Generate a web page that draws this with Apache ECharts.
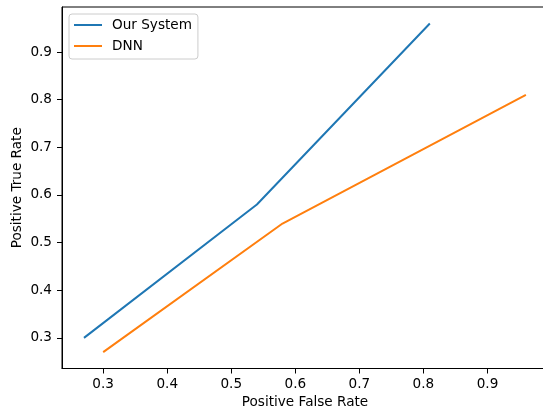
<!DOCTYPE html>
<html>
<head>
<meta charset="utf-8">
<script src="https://cdn.jsdelivr.net/npm/echarts@6/dist/echarts.min.js"></script>
<style>
  html, body { margin: 0; padding: 0; background: #fff; }
  #chart { width: 543px; height: 414px; }
</style>
</head>
<body>
<div id="chart"></div>
<script>
// values
const seriesNames = ['Our System', 'DNN'];
const ourSystemX = [0.27, 0.54, 0.81];
const ourSystemY = [0.30, 0.58, 0.96];
const dnnX = [0.30, 0.58, 0.96];
const dnnY = [0.27, 0.54, 0.81];
const xTicks = [0.3, 0.4, 0.5, 0.6, 0.7, 0.8, 0.9];
const yTicks = [0.3, 0.4, 0.5, 0.6, 0.7, 0.8, 0.9];

const zip = (xs, ys) => xs.map((x, i) => [x, ys[i]]);

const font = 'DejaVu Sans';
const fs = 13.6;

const chart = echarts.init(document.getElementById('chart'));

const axisCommon = {
  type: 'value',
  min: 0.2357,
  max: 0.9945,
  splitLine: { show: false },
  axisLine: { show: true, onZero: false, lineStyle: { color: '#000', width: 1 } },
  axisTick: { show: true, length: 5, lineStyle: { color: '#000', width: 1 } },
  nameLocation: 'middle',
  nameMoveOverlap: false,
  nameTextStyle: { fontFamily: font, fontSize: fs, color: '#000' }
};

const option = {
  animation: false,
  backgroundColor: '#fff',
  grid: {
    left: 62,
    top: 7,
    width: 486,
    height: 361.5,
    outerBoundsMode: 'none',
    containLabel: false,
    show: true,
    borderColor: '#000',
    borderWidth: 1,
    backgroundColor: 'transparent'
  },
  legend: {
    data: seriesNames.map(n => ({ name: n, icon: 'rect' })),
    left: 69,
    top: 14,
    orient: 'vertical',
    itemWidth: 28,
    itemHeight: 2,
    itemGap: 7,
    padding: [4, 6, 6, 5],
    backgroundColor: 'rgba(255,255,255,0.8)',
    borderColor: '#cccccc',
    borderWidth: 1,
    borderRadius: 3,
    textStyle: { fontFamily: font, fontSize: fs, lineHeight: 14, color: '#000', padding: [0, 0, 0, 5] }
  },
  xAxis: {
    ...axisCommon,
    name: 'Positive False Rate',
    nameGap: 27,
    axisTick: { ...axisCommon.axisTick, customValues: xTicks },
    axisLabel: {
      customValues: xTicks,
      margin: 9,
      fontFamily: font,
      fontSize: fs,
      color: '#000',
      formatter: v => v.toFixed(1)
    }
  },
  yAxis: {
    ...axisCommon,
    name: 'Positive True Rate',
    nameGap: 38,
    axisTick: { ...axisCommon.axisTick, customValues: yTicks },
    axisLabel: {
      customValues: yTicks,
      margin: 10,
      fontFamily: font,
      fontSize: fs,
      color: '#000',
      formatter: v => v.toFixed(1)
    }
  },
  series: [
    {
      name: seriesNames[0],
      type: 'line',
      data: zip(ourSystemX, ourSystemY),
      symbol: 'none',
      lineStyle: { width: 2, color: '#1f77b4' },
      itemStyle: { color: '#1f77b4' }
    },
    {
      name: seriesNames[1],
      type: 'line',
      data: zip(dnnX, dnnY),
      symbol: 'none',
      lineStyle: { width: 2, color: '#ff7f0e' },
      itemStyle: { color: '#ff7f0e' }
    }
  ]
};

chart.setOption(option);
</script>
</body>
</html>
